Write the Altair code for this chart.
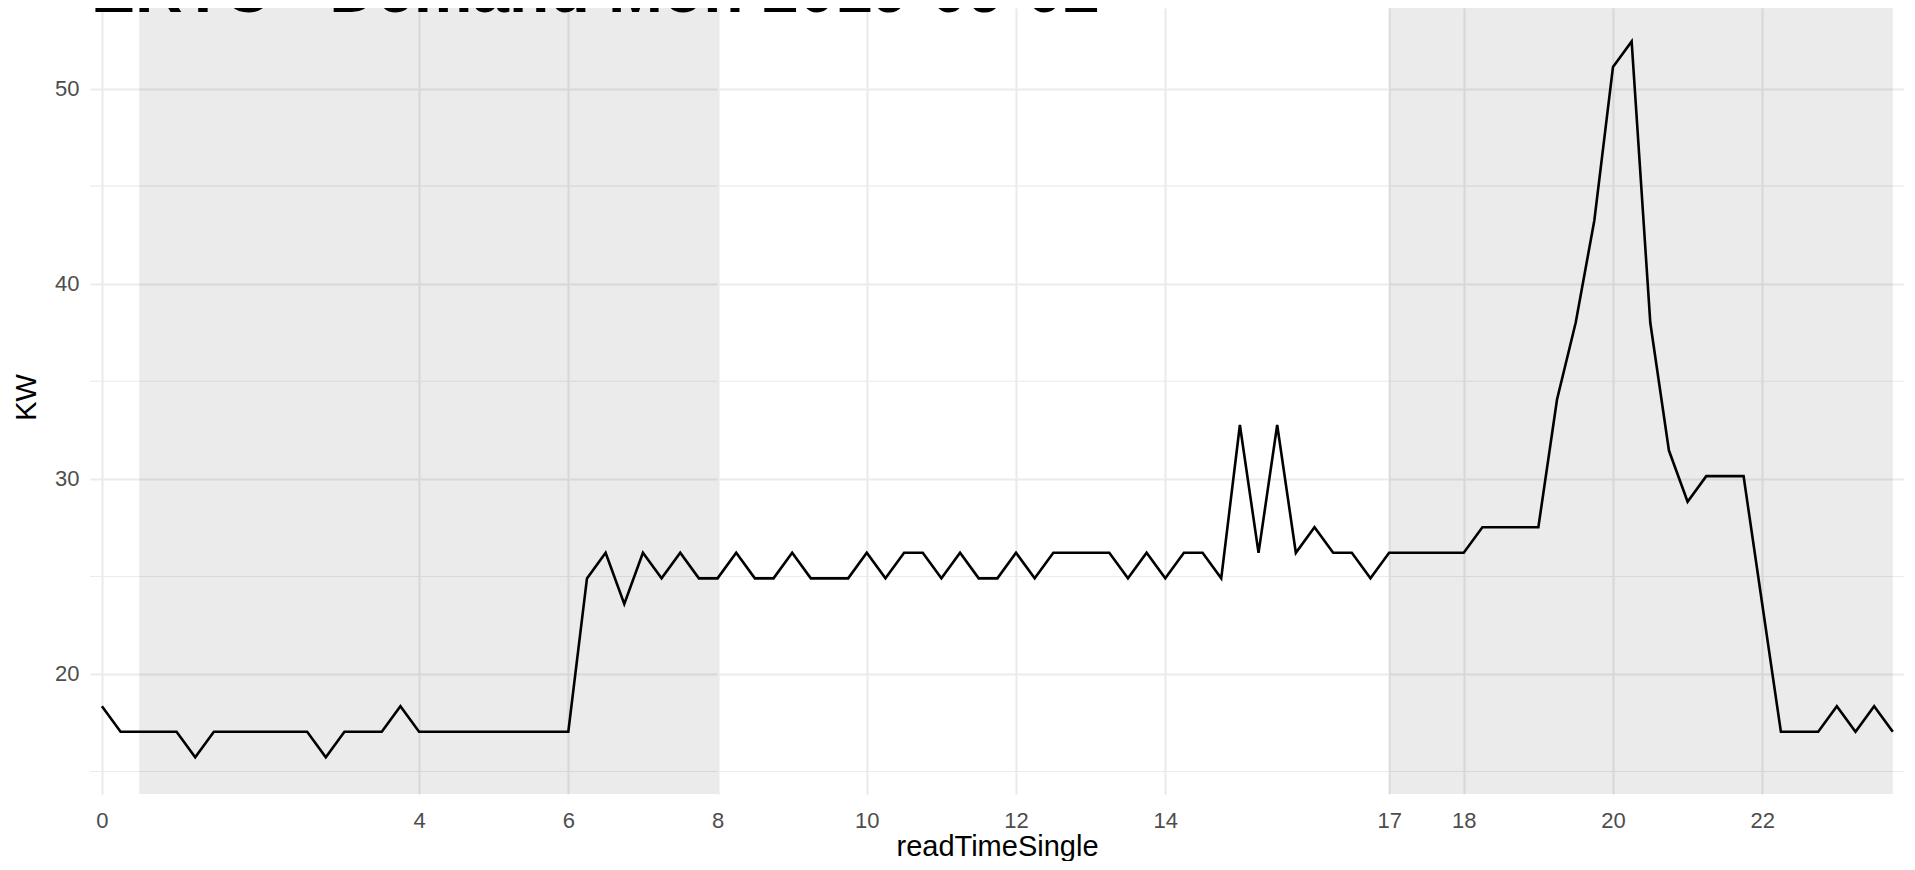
import altair as alt
import pandas as pd

# Reading times (hours); the first reading sits on the tick labelled "0"
read_time_single = [
    -0.25, 0.0, 0.25, 0.5, 0.75, 1.0, 1.25, 1.5, 1.75, 2.0, 2.25, 2.5,
    2.75, 3.0, 3.25, 3.5, 3.75, 4.0, 4.25, 4.5, 4.75, 5.0, 5.25, 5.5,
    5.75, 6.0, 6.25, 6.5, 6.75, 7.0, 7.25, 7.5, 7.75, 8.0, 8.25, 8.5,
    8.75, 9.0, 9.25, 9.5, 9.75, 10.0, 10.25, 10.5, 10.75, 11.0, 11.25, 11.5,
    11.75, 12.0, 12.25, 12.5, 12.75, 13.0, 13.25, 13.5, 13.75, 14.0, 14.25, 14.5,
    14.75, 15.0, 15.25, 15.5, 15.75, 16.0, 16.25, 16.5, 16.75, 17.0, 17.25, 17.5,
    17.75, 18.0, 18.25, 18.5, 18.75, 19.0, 19.25, 19.5, 19.75, 20.0, 20.25, 20.5,
    20.75, 21.0, 21.25, 21.5, 21.75, 22.0, 22.25, 22.5, 22.75, 23.0, 23.25, 23.5,
    23.75,
]

kw = [
    18.35, 17.04, 17.04, 17.04,
    17.04, 15.73, 17.04, 17.04,
    17.04, 17.04, 17.04, 17.04,
    15.73, 17.04, 17.04, 17.04,
    18.35, 17.04, 17.04, 17.04,
    17.04, 17.04, 17.04, 17.04,
    17.04, 17.04, 24.90, 26.21,
    23.59, 26.21, 24.90, 26.21,
    24.90, 24.90, 26.21, 24.90,
    24.90, 26.21, 24.90, 24.90,
    24.90, 26.21, 24.90, 26.21,
    26.21, 24.90, 26.21, 24.90,
    24.90, 26.21, 24.90, 26.21,
    26.21, 26.21, 26.21, 24.90,
    26.21, 24.90, 26.21, 26.21,
    24.90, 32.76, 26.21, 32.76,
    26.21, 27.52, 26.21, 26.21,
    24.90, 26.21, 26.21, 26.21,
    26.21, 26.21, 27.52, 27.52,
    27.52, 27.52, 34.07, 38.00,
    43.24, 51.11, 52.42, 38.00,
    31.45, 28.83, 30.14, 30.14,
    30.14, 23.59, 17.04, 17.04,
    17.04, 18.35, 17.04, 18.35,
    17.04,
]

x_tick_values = [-0.25, 4, 6, 8, 10, 12, 14, 17, 18, 20, 22]
y_major = [20, 30, 40, 50]
y_minor = [15, 25, 35, 45]

shade_start = [0.25, 17.0]
shade_end = [8.0, 23.75]

title_text = "ERTC - Demand Mon 2019-09-02"

FONT = "Liberation Sans"
W, H = 1814, 786

df = pd.DataFrame({"readTimeSingle": read_time_single, "KW": kw})
shade = pd.DataFrame({"start": shade_start, "end": shade_end})
minor = pd.DataFrame({"KW": y_minor})

xscale = alt.Scale(domain=[-0.41, 23.90], nice=False, zero=False)
yscale = alt.Scale(domain=[13.85, 54.13], nice=False, zero=False)

xaxis = alt.Axis(
    values=x_tick_values,
    labelExpr="datum.value < 0 ? '0' : format(datum.value, 'd')",
    grid=True, gridColor="#EBEBEB", gridWidth=2.2,
    domain=False, ticks=False, tickSize=0,
    labelFont=FONT, labelFontSize=22, labelColor="#4D4D4D",
    labelPadding=16, labelFlush=False, labelOverlap=False,
    title="readTimeSingle", titleFont=FONT, titleFontSize=29,
    titleFontWeight="normal", titleColor="#000000",
    titleX=W / 2, titleY=61, titleBaseline="alphabetic", titleAlign="center",
)
yaxis = alt.Axis(
    values=y_major,
    grid=True, gridColor="#EBEBEB", gridWidth=2.2,
    domain=False, ticks=False, tickSize=0,
    labelFont=FONT, labelFontSize=22, labelColor="#4D4D4D",
    labelPadding=11, labelFlush=False,
    title="KW", titleFont=FONT, titleFontSize=29,
    titleFontWeight="normal", titleColor="#000000",
    titleX=-55, titleY=389, titleAngle=270, titleBaseline="alphabetic",
    titleAlign="center",
)

minor_grid = alt.Chart(minor).mark_rule(color="#EBEBEB", strokeWidth=1.1).encode(
    y=alt.Y("KW:Q", scale=yscale, axis=yaxis)
)

bands = alt.Chart(shade).mark_rect(color="#000000", opacity=0.08).encode(
    x=alt.X("start:Q", scale=xscale, axis=xaxis),
    x2="end:Q",
)

line = alt.Chart(df).mark_line(color="#000000", strokeWidth=2.6).encode(
    x=alt.X("readTimeSingle:Q", scale=xscale, axis=xaxis),
    y=alt.Y("KW:Q", scale=yscale, axis=yaxis),
)

title_df = pd.DataFrame({"t": [title_text]})
title_mark = alt.Chart(title_df).mark_text(
    align="left", baseline="alphabetic", font=FONT, fontSize=66,
    fontWeight="bold", color="#000000",
).encode(text="t:N", x=alt.value(1), y=alt.value(4))

chart = alt.layer(minor_grid, bands, line, title_mark).properties(
    width=W,
    height=H,
    autosize=alt.AutoSizeParams(type="none"),
    padding={"left": 82, "top": 0, "right": 0, "bottom": 67},
    background="#FFFFFF",
).configure_view(stroke=None)

chart.save("out.html", embed_options={"renderer": "svg", "actions": False})
